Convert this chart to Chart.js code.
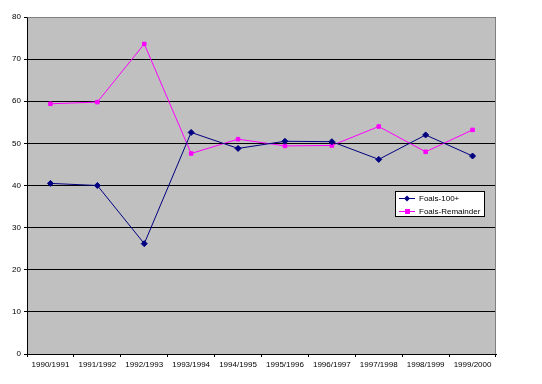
<!DOCTYPE html>
<html>
<head>
<meta charset="utf-8">
<script src="https://cdn.jsdelivr.net/npm/chart.js@4"></script>
<style>
html,body{margin:0;padding:0;background:#fff;}
#wrap{width:542px;height:384px;position:relative;}
</style>
</head>
<body>
<div id="wrap"><canvas id="c" width="542" height="384"></canvas></div>
<script>
const seasons = ["1990/1991","1991/1992","1992/1993","1993/1994","1994/1995","1995/1996","1996/1997","1997/1998","1998/1999","1999/2000"];
const foals100 = [40.5, 40.0, 26.2, 52.6, 48.8, 50.5, 50.4, 46.2, 52.0, 47.0];
const foalsRemainder = [59.4, 59.8, 73.6, 47.6, 51.0, 49.4, 49.5, 54.0, 48.0, 53.2];
const seriesNames = ["Foals-100+", "Foals-Remainder"];
const yTicks = [0,10,20,30,40,50,60,70,80];

const FONT = {family: "'Liberation Sans', Arial, sans-serif", size: 8};

const bgPlugin = {
  id: 'bg',
  beforeDraw(chart) {
    const {ctx, chartArea: a} = chart;
    ctx.save();
    ctx.fillStyle = '#C0C0C0';
    ctx.fillRect(a.left, a.top, a.right - a.left, a.bottom - a.top);
    ctx.restore();
  },
  afterDraw(chart) {
    const {ctx, chartArea: a} = chart;
    ctx.save();
    ctx.strokeStyle = '#808080';
    ctx.lineWidth = 1;
    ctx.beginPath();
    ctx.moveTo(Math.round(a.left) + 0.5, Math.round(a.top) + 0.5);
    ctx.lineTo(Math.round(a.right) - 0.5, Math.round(a.top) + 0.5);
    ctx.lineTo(Math.round(a.right) - 0.5, Math.round(a.bottom));
    ctx.stroke();
    // legend
    const bx = 395, by = 191, bw = 90, bh = 26;
    ctx.fillStyle = '#FFFFFF';
    ctx.fillRect(bx, by, bw, bh);
    ctx.strokeStyle = '#000000';
    ctx.strokeRect(bx + 0.5, by + 0.5, bw - 1, bh - 1);
    ctx.font = "8px 'Liberation Sans', Arial, sans-serif";
    ctx.textBaseline = 'middle';
    chart.data.datasets.forEach((ds, i) => {
      const y = by + 7 + i * 12.5;
      ctx.strokeStyle = ds.borderColor;
      ctx.lineWidth = 1;
      ctx.beginPath();
      ctx.moveTo(399, Math.round(y) + 0.5);
      ctx.lineTo(415, Math.round(y) + 0.5);
      ctx.stroke();
      ctx.fillStyle = ds.borderColor;
      if (i === 0) {
        ctx.beginPath();
        const cx = 407, cy = Math.round(y) + 0.5;
        ctx.moveTo(cx, cy - 3); ctx.lineTo(cx + 3, cy); ctx.lineTo(cx, cy + 3); ctx.lineTo(cx - 3, cy); ctx.closePath();
        ctx.fill();
      } else {
        ctx.fillRect(405, Math.round(y) - 2, 5, 5);
      }
      ctx.fillStyle = '#000';
      ctx.fillText(ds.label, 419, y + 1);
    });
    ctx.restore();
  }
};

new Chart(document.getElementById('c'), {
  type: 'line',
  data: {
    labels: seasons,
    datasets: [
      {label: seriesNames[0], data: foals100, borderColor: '#000080', backgroundColor: '#000080',
       borderWidth: 1, pointStyle: 'rectRot', pointRadius: 3, pointHoverRadius: 3, tension: 0},
      {label: seriesNames[1], data: foalsRemainder, borderColor: '#FF00FF', backgroundColor: '#FF00FF',
       borderWidth: 1, pointStyle: 'rect', pointRadius: 2.5, pointHoverRadius: 2.5, tension: 0}
    ]
  },
  options: {
    responsive: false,
    animation: false,
    devicePixelRatio: 1,
    layout: {padding: {left: 0, top: 17, right: 46, bottom: 0}},
    plugins: {legend: {display: false}, tooltip: {enabled: false}, title: {display: false}},
    scales: {
      x: {
        type: 'category',
        offset: true,
        grid: {display: true, drawOnChartArea: false, drawTicks: true, tickLength: 3, color: '#000', offset: true},
        border: {display: true, color: '#000', width: 1},
        ticks: {color: '#000', font: FONT, padding: 3, maxRotation: 0, autoSkip: false},
        afterFit(s) { s.height = 30; }
      },
      y: {
        min: 0, max: 80,
        afterBuildTicks(s) { s.ticks = yTicks.map(v => ({value: v})); },
        grid: {display: true, color: '#000', tickLength: 3, drawTicks: true},
        border: {display: true, color: '#000', width: 1},
        ticks: {color: '#000', font: FONT, padding: 3},
        afterFit(s) { s.width = 27; }
      }
    }
  },
  plugins: [bgPlugin]
});
</script>
</body>
</html>
